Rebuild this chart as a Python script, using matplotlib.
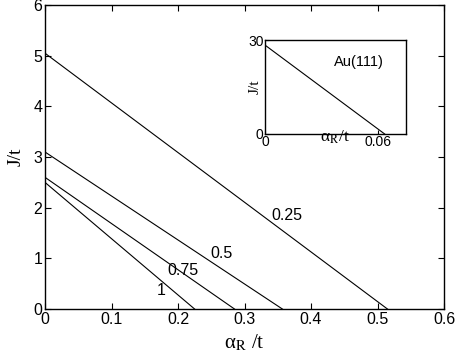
import matplotlib
matplotlib.use("Agg")
import matplotlib.pyplot as plt

plt.rcParams['font.family'] = 'Liberation Sans'
plt.rcParams['mathtext.fontset'] = 'stix'

# main panel: lines J/t vs alpha_R/t, straight from intercept to zero crossing
labels = ['0.25', '0.5', '0.75', '1']
j0 = [5.05, 3.1, 2.6, 2.5]
a0 = [0.515, 0.357, 0.285, 0.225]
label_x = [0.364, 0.265, 0.207, 0.174]
label_y = [1.84, 1.10, 0.77, 0.36]

# inset: Au(111)
inset_j0 = 28.4
inset_a0 = 0.0637

fig = plt.figure(figsize=(4.56, 3.64), dpi=100)
ax = fig.add_axes([0.0987, 0.151, 0.875, 0.835])
for j, a in zip(j0, a0):
    ax.plot([0, a], [j, 0], color='black', lw=0.8)
for t, x, y in zip(labels, label_x, label_y):
    ax.text(x, y, t, fontsize=11.5, ha='center', va='center')
ax.set_xlim(0, 0.6)
ax.set_ylim(0, 6)
ax.set_xticks([0, 0.1, 0.2, 0.3, 0.4, 0.5, 0.6])
ax.set_xticklabels(['0', '0.1', '0.2', '0.3', '0.4', '0.5', '0.6'])
ax.set_yticks(range(7))
ax.tick_params(direction='in', top=True, right=True, labelsize=11.5, length=4, pad=2)
ax.set_xlabel('α$_{\\mathrm{R}}$ /t', fontsize=15, family='Liberation Serif', labelpad=4)
ax.set_ylabel('J/t', fontsize=14, family='Liberation Serif', labelpad=6)
for s in ax.spines.values():
    s.set_linewidth(1.0)

ins = fig.add_axes([0.581, 0.632, 0.309, 0.258])
ins.plot([0, inset_a0], [inset_j0, 0], color='black', lw=0.8)
ins.set_xlim(0, 0.075)
ins.set_ylim(0, 30)
ins.set_xticks([0, 0.06])
ins.set_xticklabels(['0', '0.06'])
ins.set_yticks([0, 30])
ins.tick_params(direction='in', labelsize=10, length=3, pad=1)
ins.text(0.050, 23, 'Au(111)', fontsize=10.5, ha='center', va='center')
ins.set_xlabel('α$_{\\mathrm{R}}$/t', fontsize=12.5, family='Liberation Serif', labelpad=-15)
ins.set_ylabel('J/t', fontsize=11, family='Liberation Serif', labelpad=-10)
for s in ins.spines.values():
    s.set_linewidth(1.0)

fig.savefig('out.png', dpi=100)
